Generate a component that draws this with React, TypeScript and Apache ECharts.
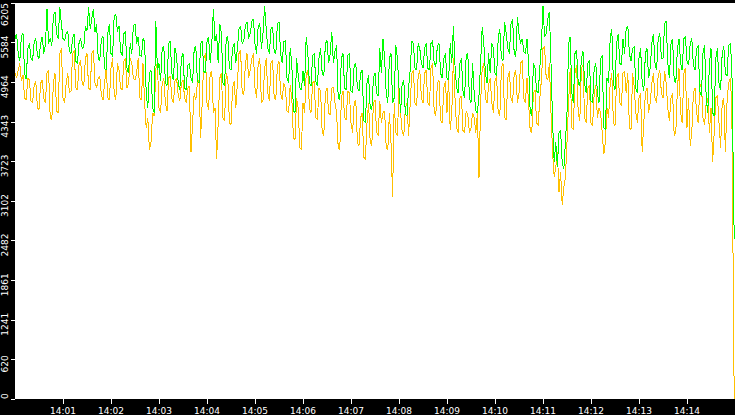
import { useEffect, useRef } from 'react';
import * as echarts from 'echarts';

// samples every 2 s from 14:00:00, last sample at 14:14:59
const sampleStep = 2;
const lastSampleTime = 899;

const greenValues = [
  5645, 5725, 5414, 5290, 5694, 5725, 5104, 5011, 5492, 5570, 5337, 5306, 5601, 5647, 5383, 5337, 5570, 5678, 5414, 5539,
  6112, 5570, 5647, 5539, 6004, 6066, 5725, 5647, 6143, 5880, 5647, 5616, 5725, 5756, 5445, 5414, 5647, 5725, 5290, 5259,
  5570, 5647, 5492, 5523, 5849, 5771, 6143, 5802, 5957, 6112, 5756, 5880, 5337, 5306, 5647, 5678, 5182, 5151, 5725, 5880,
  5414, 5368, 6004, 6035, 5756, 5849, 5445, 5383, 5725, 5756, 5182, 5104, 5570, 5414, 5849, 5880, 5570, 5678, 5383, 5368,
  5647, 5601, 4794, 4561, 5104, 5151, 4561, 4484, 5926, 5151, 5259, 4980, 5492, 5523, 4949, 4903, 5570, 5616, 5104, 4996,
  5492, 5383, 4949, 4841, 5337, 5414, 4872, 4841, 5228, 5259, 5027, 4949, 5492, 5523, 4980, 4949, 5570, 5616, 5135, 5104,
  5601, 5678, 5259, 5570, 6112, 5616, 5725, 5259, 5880, 5725, 4949, 4903, 5647, 5678, 5182, 5151, 5492, 5570, 5259, 5492,
  5802, 5849, 5570, 5616, 5849, 5911, 5647, 5725, 5911, 5957, 5570, 5414, 5849, 5880, 5492, 5725, 6159, 5802, 5492, 5414,
  5802, 5833, 5445, 5414, 5880, 5911, 5414, 5259, 5601, 5616, 5027, 4949, 5492, 5259, 4515, 4484, 5337, 5073, 4872, 4841,
  5135, 4903, 5678, 5414, 4949, 4903, 5383, 5414, 4980, 4903, 5337, 5492, 5104, 5058, 5570, 5616, 5259, 5414, 5756, 5259,
  5445, 5539, 4717, 4686, 5337, 5414, 4872, 4841, 5383, 5414, 4825, 4794, 5228, 5259, 4872, 4825, 5104, 5151, 4360, 4329,
  4949, 5073, 4561, 4530, 5027, 5104, 4794, 4748, 5492, 5104, 5647, 5337, 4794, 4639, 5337, 5414, 4639, 4717, 5539, 5337,
  4872, 4484, 4949, 4996, 4453, 4437, 4872, 5151, 5616, 5570, 5182, 5151, 5570, 5492, 5259, 5182, 5492, 5570, 5182, 5151,
  5570, 5616, 5259, 5213, 5539, 5570, 5104, 5027, 5337, 5414, 5027, 4996, 5570, 5259, 5849, 5228, 4872, 4794, 5259, 5337,
  4825, 4717, 5383, 5414, 4717, 4639, 5259, 4794, 4515, 4484, 4763, 5259, 5833, 5570, 5104, 4949, 5414, 5104, 5570, 5492,
  5104, 5058, 5647, 5802, 5337, 5306, 5911, 5725, 5492, 5414, 5880, 5957, 5414, 5368, 5988, 5725, 5570, 5647, 5445, 5414,
  5647, 5259, 4484, 4437, 5259, 5182, 4825, 4794, 5182, 5570, 6159, 5678, 5725, 5957, 6066, 5259, 4329, 3708, 4019, 3631,
  4174, 4205, 3708, 3600, 4019, 4484, 5570, 5678, 4794, 4639, 5414, 5461, 4949, 4903, 5337, 5445, 4949, 4794, 5259, 5306,
  4670, 4639, 5182, 5259, 4794, 4639, 5337, 5383, 4251, 4220, 5027, 4949, 5647, 5802, 4949, 4841, 5570, 5725, 5259, 5228,
  5647, 5414, 5802, 5849, 5414, 5290, 5492, 5523, 4872, 4794, 5337, 5492, 4949, 4825, 5414, 5492, 5027, 5182, 5570, 5725,
  5259, 5151, 5647, 5725, 5337, 5337, 5880, 5926, 5259, 5027, 5570, 5647, 4980, 4949, 5492, 5647, 5259, 5151, 5647, 5678,
  5290, 5228, 5570, 5647, 5228, 5151, 5492, 5539, 4825, 4748, 5414, 5539, 4717, 4484, 5259, 5492, 4484, 4437, 5337, 5492,
  4949, 4841, 5414, 5523, 5104, 5058, 5539, 5570, 5259, 2514,
];

const orangeValues = [
  5104, 5027, 5151, 5259, 4980, 5073, 4717, 4686, 5027, 4996, 4670, 4639, 4918, 4980, 4561, 4530, 4949, 4996, 4717, 4639,
  5104, 5151, 4406, 4375, 4949, 5104, 4515, 4484, 5414, 5492, 4717, 4639, 4949, 5104, 4794, 4825, 5414, 5461, 4872, 4841,
  5228, 5306, 4949, 4903, 5337, 5414, 4872, 4841, 5414, 5461, 4949, 4872, 5027, 5058, 4763, 4686, 4949, 5182, 4717, 4686,
  5182, 5337, 4794, 4686, 5259, 5151, 4872, 4841, 5290, 5337, 4872, 4949, 5337, 5259, 5027, 4996, 5104, 5337, 4717, 4686,
  5259, 4639, 4251, 4406, 3895, 4018, 4484, 4437, 5182, 5259, 4561, 4484, 4949, 5027, 4639, 4515, 5027, 5058, 4717, 4639,
  4980, 5027, 4763, 4670, 4949, 4996, 4717, 4639, 4872, 4903, 3863, 4329, 4794, 4686, 4949, 4996, 4096, 4639, 5337, 5414,
  4639, 4530, 5104, 5135, 4484, 4561, 3755, 4329, 5027, 5104, 4406, 4360, 5104, 5027, 4329, 4298, 4872, 4980, 4561, 4949,
  5414, 5461, 4794, 4763, 5259, 5414, 5027, 5151, 5337, 5414, 4872, 4717, 5259, 5337, 4639, 4686, 5182, 5337, 4794, 4670,
  5259, 5306, 4717, 4686, 5228, 5290, 4794, 4686, 4949, 4872, 4515, 4484, 4918, 4717, 4096, 4065, 4717, 4561, 3941, 3910,
  4639, 4484, 5104, 5151, 4561, 4484, 4949, 4980, 4406, 4375, 4872, 4825, 4174, 4127, 4794, 4872, 4484, 4453, 4872, 4887,
  4639, 4484, 3941, 3910, 4717, 4825, 4406, 4375, 4825, 4794, 4329, 4174, 4639, 4686, 4019, 3972, 4406, 4484, 3786, 3755,
  4329, 4639, 4019, 3972, 4639, 4686, 4174, 4127, 4670, 4329, 4484, 4515, 3941, 3910, 4484, 4018, 3166, 4639, 4174, 4127,
  4872, 4484, 4174, 4127, 4561, 4639, 4127, 4639, 5104, 5151, 4639, 4592, 5073, 5151, 4717, 4639, 5104, 5151, 4639, 4592,
  5182, 5259, 4484, 4437, 4949, 4996, 4360, 4329, 4872, 4980, 4484, 5027, 4220, 4484, 5337, 4717, 4251, 4174, 4717, 4748,
  4205, 4174, 4515, 4453, 4174, 4251, 4484, 4406, 4174, 4484, 3460, 4639, 5182, 5259, 4717, 4639, 4918, 5027, 4639, 4484,
  4980, 5058, 4484, 4437, 5182, 5259, 4406, 4375, 5027, 5135, 4717, 4639, 5104, 5151, 4639, 4794, 5259, 5306, 4717, 4639,
  5027, 4639, 4205, 4174, 4794, 4841, 4329, 4282, 4717, 4996, 5492, 5523, 5027, 4996, 5259, 4484, 3863, 3476, 3631, 3863,
  3243, 3553, 3041, 3321, 3476, 4018, 4639, 5182, 4251, 4220, 5104, 5228, 4484, 4360, 5182, 5228, 4406, 4329, 4872, 4918,
  4329, 4282, 4794, 4918, 4406, 4561, 4484, 4174, 3832, 4018, 4561, 4406, 4949, 5104, 4329, 4282, 5027, 5104, 4639, 4592,
  5104, 5135, 4794, 5104, 4251, 4220, 5104, 4903, 4484, 4329, 4717, 4794, 3863, 4329, 4794, 4872, 4484, 4639, 4949, 5104,
  4717, 4639, 5073, 5151, 4794, 4717, 5135, 4949, 4561, 4360, 4717, 4794, 4127, 4174, 4872, 5182, 4484, 4329, 5104, 5182,
  4251, 4717, 3972, 4174, 4794, 4872, 4484, 4329, 4872, 4949, 4406, 4298, 4639, 4717, 4174, 4561, 3708, 4174, 4717, 4763,
  4329, 3941, 4639, 4717, 3863, 4639, 4949, 5027, 4639, 0,
];

const xTickLabels = [
  '14:01', '14:02', '14:03', '14:04', '14:05', '14:06', '14:07',
  '14:08', '14:09', '14:10', '14:11', '14:12', '14:13', '14:14',
];
const xTickSeconds = xTickLabels.map((_, i) => (i + 1) * 60);

const yMax = 6205;
const yStep = 620.5;

const toPoints = (values: number[]) =>
  values.map((v, i) => [i === values.length - 1 ? lastSampleTime : i * sampleStep, v]);

const labelFont = {
  color: '#fff',
  fontSize: 9,
  fontFamily: 'DejaVu Sans',
};

const App = () => {
  const chartRef = useRef<HTMLDivElement>(null);

  useEffect(() => {
    if (!chartRef.current) return;
    const chart = echarts.init(chartRef.current, undefined, { renderer: 'svg' });

    chart.setOption({
      animation: false,
      backgroundColor: '#000',
      grid: {
        left: 15,
        right: 0,
        top: 0,
        bottom: 16,
        show: true,
        backgroundColor: '#fff',
        borderWidth: 0,
      },
      xAxis: {
        type: 'value',
        min: 0,
        max: 900,
        axisLine: { show: false },
        splitLine: { show: false },
        axisTick: {
          show: true,
          length: 5,
          customValues: xTickSeconds,
          lineStyle: { color: '#fff', width: 1 },
        },
        axisLabel: {
          ...labelFont,
          margin: 7,
          customValues: xTickSeconds,
          formatter: (v: number) => xTickLabels[Math.round(v / 60) - 1] ?? '',
        },
      },
      yAxis: {
        type: 'value',
        min: 0,
        max: yMax,
        interval: yStep,
        axisLine: { show: false },
        splitLine: { show: false },
        axisTick: {
          show: true,
          length: 4,
          lineStyle: { color: '#fff', width: 1 },
        },
        axisLabel: {
          ...labelFont,
          rotate: 90,
          margin: 6,
          alignMinLabel: 'left',
          alignMaxLabel: 'right',
          formatter: (v: number) => {
            const text = String(Math.floor(v + 1e-6));
            return v >= yMax - 1 || v <= 0 ? `{edge|${text}}` : `{n|${text}}`;
          },
          rich: {
            n: { ...labelFont, padding: [0, 9, 0, 0] },
            edge: { ...labelFont },
          },
        },
      },
      series: [
        {
          name: 'orange',
          type: 'line',
          data: toPoints(orangeValues),
          showSymbol: false,
          symbol: 'none',
          lineStyle: { color: '#ffc000', width: 1 },
          itemStyle: { color: '#ffc000' },
        },
        {
          name: 'green',
          type: 'line',
          data: toPoints(greenValues),
          showSymbol: false,
          symbol: 'none',
          lineStyle: { color: '#00ff00', width: 1 },
          itemStyle: { color: '#00ff00' },
        },
      ],
    });

    return () => {
      chart.dispose();
    };
  }, []);

  return (
    <div
      ref={chartRef}
      style={{
        position: 'fixed',
        left: 0,
        top: 0,
        width: 735,
        height: 415,
        background: '#000',
        shapeRendering: 'crispEdges',
      }}
    />
  );
};

export default App;
